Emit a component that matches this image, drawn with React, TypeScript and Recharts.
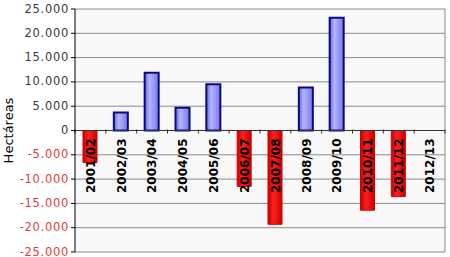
import { BarChart, Bar, XAxis, YAxis, CartesianGrid, ReferenceLine, Cell } from "recharts";

const campaigns = ["2001/02", "2002/03", "2003/04", "2004/05", "2005/06", "2006/07", "2007/08", "2008/09", "2009/10", "2010/11", "2011/12", "2012/13"];
const hectareas = [-6600, 3700, 11900, 4700, 9500, -11500, -19300, 8850, 23200, -16400, -13600, 0];
const yTicks = [-25000, -20000, -15000, -10000, -5000, 0, 5000, 10000, 15000, 20000, 25000];

const W = 450;
const H = 257;
const MARGIN = { top: 9, right: 5, bottom: 5, left: 15 };
const Y_AXIS_W = 60;
const ZERO_Y = (MARGIN.top + (H - MARGIN.bottom)) / 2;
const BAND = (W - MARGIN.left - MARGIN.right - Y_AXIS_W) / campaigns.length;

const data = campaigns.map((c, i) => ({ campaign: c, value: hectareas[i] }));

// 25000 -> "25.000"
const fmt = (v: number) => {
  const s = Math.abs(v).toString().replace(/\B(?=(\d{3})+(?!\d))/g, ".");
  return v < 0 ? "-" + s : s;
};

const YTick = ({ x, y, payload }: any) => (
  <text
    x={x}
    y={y}
    dy={3.5}
    textAnchor="end"
    fontFamily="DejaVu Sans"
    fontSize={11.5}
    letterSpacing={0.7}
    fill={payload.value < 0 ? "#e23a3a" : "#3a3a3a"}
  >
    {fmt(payload.value)}
  </text>
);

// category label hanging below the zero line, with the small boundary tick
const CatLabel = ({ viewBox, value, last }: any) => {
  const cx = viewBox.x;
  return (
    <g>
      <line x1={cx - BAND / 2} x2={cx - BAND / 2} y1={ZERO_Y - 1} y2={ZERO_Y + 3} stroke="#333" />
      {last && <line x1={cx + BAND / 2} x2={cx + BAND / 2} y1={ZERO_Y - 1} y2={ZERO_Y + 3} stroke="#333" />}
      <g transform={`translate(${cx},${ZERO_Y + 8}) rotate(-90)`}>
        <text x={0} y={0} dy={4.3} textAnchor="end" fontFamily="DejaVu Sans" fontWeight="bold" fontSize={12} fill="#000">
          {value}
        </text>
      </g>
    </g>
  );
};

const YLabel = ({ viewBox }: any) => (
  <g transform={`translate(8,${viewBox.y + viewBox.height / 2}) rotate(-90)`}>
    <text x={0} y={0} dy={4.5} textAnchor="middle" fontFamily="DejaVu Sans" fontSize={13} fill="#000">
      Hectáreas
    </text>
  </g>
);

export default function App() {
  return (
    <div style={{ position: "absolute", left: 0, top: 0, width: W, height: H, background: "#fff" }}>
      <BarChart width={W} height={H} data={data} margin={MARGIN} barSize={14}>
        <defs>
          <linearGradient id="gBlue" x1="0" y1="0" x2="1" y2="0">
            <stop offset="0%" stopColor="#6a6ad8" />
            <stop offset="35%" stopColor="#b4b4ff" />
            <stop offset="100%" stopColor="#7878e6" />
          </linearGradient>
          <linearGradient id="gRed" x1="0" y1="0" x2="1" y2="0">
            <stop offset="0%" stopColor="#c80000" />
            <stop offset="40%" stopColor="#ff2020" />
            <stop offset="100%" stopColor="#cc0000" />
          </linearGradient>
        </defs>
        <CartesianGrid
          vertical={true}
          verticalCoordinatesGenerator={({ offset }: any) => [offset.left + offset.width]}
          stroke="#8a8a8a"
          fill="#f8f8f8"
        />
        <XAxis dataKey="campaign" hide />
        <YAxis
          width={Y_AXIS_W}
          domain={[-25000, 25000]}
          ticks={yTicks}
          interval={0}
          axisLine={{ stroke: "#000" }}
          tickLine={{ stroke: "#000" }}
          tickSize={4}
          tick={(p: any) => <YTick {...p} />}
          label={(p: any) => <YLabel {...p} />}
        />
        <ReferenceLine y={0} stroke="#333" />
        <Bar dataKey="value" isAnimationActive={false}>
          {data.map((d, i) => (
            <Cell
              key={i}
              fill={d.value < 0 ? "url(#gRed)" : "url(#gBlue)"}
              stroke={d.value < 0 ? "#d40000" : d.value === 0 ? "none" : "#0a0a80"}
              strokeWidth={d.value < 0 ? 1 : 2}
            />
          ))}
        </Bar>
        {campaigns.map((c, i) => (
          <ReferenceLine
            key={c}
            x={c}
            stroke="none"
            label={(p: any) => <CatLabel {...p} value={c} last={i === campaigns.length - 1} />}
          />
        ))}
      </BarChart>
    </div>
  );
}
